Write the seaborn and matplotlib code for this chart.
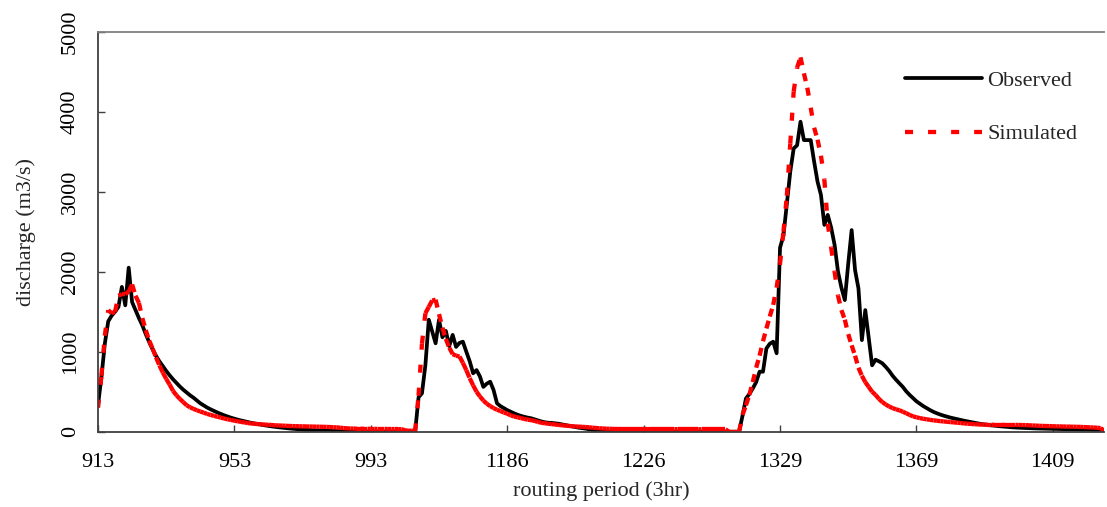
import numpy as np
import pandas as pd
import matplotlib
matplotlib.use("Agg")
import matplotlib.pyplot as plt
from matplotlib.lines import Line2D
import seaborn as sns

# ---- data -------------------------------------------------------------
# Three flood events, each a run of consecutive 3-hour routing periods
event_starts = [913, 1158, 1309]

observed_1 = [330, 680, 1100, 1380, 1450, 1500, 1560, 1810, 1580, 2050,
              1620, 1520, 1420, 1330, 1220, 1120, 1030, 950, 880, 820,
              760, 705, 655, 610, 565, 525, 490, 455, 425, 390,
              355, 328, 302, 280, 260, 240, 222, 205, 190, 175,
              162, 150, 140, 130, 120, 110, 102, 94, 86, 79,
              72, 66, 60, 55, 50, 45, 41, 37, 33, 30,
              27, 24, 21, 19, 17, 15, 13, 11, 10, 9,
              8, 7, 6, 5, 5, 4, 4, 3, 3, 3,
              2, 2, 2, 2, 1, 1, 1, 1, 0, 0,
              0, 0]
simulated_1 = [300, 700, 1200, 1520, 1480, 1500, 1700, 1720, 1720, 1750,
               1840, 1700, 1610, 1420, 1270, 1140, 1040, 930, 830, 740,
               660, 590, 510, 455, 410, 370, 330, 305, 285, 268,
               252, 238, 222, 210, 198, 187, 176, 165, 155, 146,
               138, 130, 122, 115, 108, 102, 98, 95, 92, 89,
               86, 83, 80, 78, 76, 74, 72, 70, 69, 68,
               67, 66, 65, 64, 63, 62, 61, 60, 58, 56,
               54, 50, 45, 42, 40, 39, 38, 38, 37, 37,
               36, 36, 35, 35, 35, 34, 34, 33, 33, 30,
               20, 10]

observed_2 = [0, 0, 430, 480, 830, 1400, 1250, 1105,
              1400, 1180, 1260, 1070, 1210, 1060, 1110, 1125, 1000, 880,
              730, 770, 690, 560, 600, 625, 520, 355, 320, 295,
              270, 250, 230, 212, 198, 186, 176, 168, 155, 142,
              128, 118, 112, 110, 105, 100, 92, 84, 75, 66,
              58, 50, 44, 38, 30, 22, 15, 9, 5, 3,
              2, 1, 0, 0, 0, 0, 0, 0, 0, 0,
              0, 0, 0, 0, 0, 0, 0, 0, 0, 0,
              0, 0, 0, 0, 0, 0, 0, 0, 0, 0]
simulated_2 = [15, 5, 450, 1100, 1480, 1560, 1640, 1650,
               1470, 1300, 1160, 1050, 970, 950, 940, 860, 770, 670,
               580, 500, 440, 390, 350, 320, 295, 275, 258, 240,
               225, 205, 190, 180, 170, 160, 150, 145, 135, 122,
               112, 105, 100, 95, 90, 85, 80, 76, 72, 69,
               66, 63, 61, 58, 55, 50, 46, 43, 40, 38,
               36, 35, 34, 34, 33, 33, 33, 33, 33, 33,
               33, 33, 32, 32, 32, 32, 32, 32, 32, 32,
               31, 31, 31, 31, 31, 31, 31, 30, 30, 30]

observed_3 = [0, 0, 0, 0, 0, 0, 0, 0, 0, 200,
              415, 470, 540, 620, 750, 750, 1040, 1100, 1125, 980,
              2300, 2450, 2850, 3250, 3540, 3580, 3875, 3645, 3645, 3645,
              3375, 3125, 2960, 2585, 2710, 2550, 2335, 2000, 1800, 1645,
              2100, 2520, 2020, 1790, 1145, 1520, 1170, 830, 900, 880,
              855, 810, 760, 700, 650, 605, 560, 505, 460, 420,
              380, 350, 320, 295, 270, 248, 230, 214, 200, 188,
              176, 166, 156, 146, 137, 128, 120, 112, 104, 96,
              90, 84, 79, 74, 70, 66, 62, 58, 55, 52,
              50, 48, 46, 44, 42, 41, 40, 39, 38, 37,
              36, 35, 34, 33, 32, 31, 30, 29, 28, 27,
              26, 25, 24, 23, 22, 20]
simulated_3 = [30, 30, 30, 30, 30, 0, 0, 0, 0, 210,
               330, 460, 620, 800, 950, 1130, 1290, 1440, 1585, 1800,
               2100, 2500, 2950, 3600, 4250, 4550, 4680, 4480, 4300, 4050,
               3800, 3650, 3450, 3150, 2600, 2300, 2000, 1700, 1520, 1400,
               1220, 1080, 950, 800, 700, 620, 560, 500, 460, 410,
               370, 340, 315, 295, 280, 268, 250, 230, 210, 192,
               180, 170, 162, 155, 148, 142, 137, 132, 128, 124,
               120, 116, 112, 108, 104, 100, 97, 94, 91, 89,
               88, 87, 87, 86, 86, 86, 85, 85, 85, 85,
               84, 83, 82, 80, 78, 76, 74, 72, 71, 70,
               68, 67, 66, 65, 64, 63, 62, 61, 60, 58,
               56, 54, 52, 50, 45, 15]

tick_labels = ["913", "953", "993", "1186", "1226", "1329", "1369", "1409"]
y_ticks = [0, 1000, 2000, 3000, 4000, 5000]

# ---- assemble ---------------------------------------------------------
obs_parts = [observed_1, observed_2, observed_3]
sim_parts = [simulated_1, simulated_2, simulated_3]
period = np.concatenate([np.arange(s, s + len(o)) for s, o in zip(event_starts, obs_parts)])
observed = np.concatenate(obs_parts).astype(float)
simulated = np.concatenate(sim_parts).astype(float)
pos = np.arange(len(period))          # category position on the x axis

df = pd.DataFrame({"pos": pos, "period": period,
                   "Observed": observed, "Simulated": simulated})

# simulated series split into point-to-point pieces so the dash
# pattern restarts at every vertex
n = len(pos)
pairs = np.column_stack([np.arange(n - 1), np.arange(1, n)]).ravel()
seg_df = pd.DataFrame({"pos": pos[pairs],
                       "Simulated": simulated[pairs],
                       "piece": np.repeat(np.arange(n - 1), 2)})

# ---- style ------------------------------------------------------------
sns.set_theme(style="white")
plt.rcParams["font.family"] = ["Liberation Serif", "DejaVu Serif"]
plt.rcParams["lines.scale_dashes"] = False

W, H = 1107, 507
fig = plt.figure(figsize=(W / 100, H / 100), dpi=100)
left, right, top, bottom = 98, 1104, 31.7, 431.7
ax = fig.add_axes([left / W, (H - bottom) / H, (right - left) / W, (bottom - top) / H])

dash = (0, (5.8, 10.8))
sns.lineplot(data=df, x="pos", y="Observed", ax=ax, color="black",
             linewidth=2.7, estimator=None, sort=False)
sns.lineplot(data=seg_df, x="pos", y="Simulated", units="piece", ax=ax,
             color="#FF0000", linewidth=3.1, linestyle=dash,
             estimator=None, legend=False)

# ---- axes -------------------------------------------------------------
ax.set_xlim(0, n - 1)
ax.set_ylim(0, 5000)
tick_pos = np.arange(0, n, 40)[:len(tick_labels)]
ax.set_xticks(tick_pos)
ax.set_xticklabels(tick_labels)
ax.set_yticks(y_ticks)
ax.set_yticklabels([str(v) for v in y_ticks], rotation=90, va="center")
ax.tick_params(axis="both", direction="in", length=5, width=1.0,
               color="#404040", labelsize=16, labelcolor="black")
ax.tick_params(axis="x", pad=15, bottom=True)
ax.tick_params(axis="y", pad=13, left=True)

for side in ("left", "bottom"):
    ax.spines[side].set_color("#404040")
    ax.spines[side].set_linewidth(1.3)
ax.spines["top"].set_color("#808080")
ax.spines["top"].set_linewidth(1.3)
ax.spines["right"].set_visible(False)

ax.set_xlabel("routing period (3hr)", fontsize=16)
ax.set_ylabel("discharge (m3/s)", fontsize=16)
ax.xaxis.set_label_coords(0.5, -0.123)
ax.yaxis.set_label_coords(-0.062, 0.5)

handles = [Line2D([], [], color="black", linewidth=2.7),
           Line2D([], [], color="#FF0000", linewidth=3.1, linestyle=dash)]
ax.legend(handles, ["Observed", "Simulated"], loc="upper left",
          bbox_to_anchor=((905 - left) / (right - left), (bottom - 70) / (bottom - top)),
          frameon=False, fontsize=16, handlelength=3.45, handletextpad=0.25,
          labelspacing=1.5, borderpad=0, borderaxespad=0)

fig.savefig("out.png", dpi=100)
